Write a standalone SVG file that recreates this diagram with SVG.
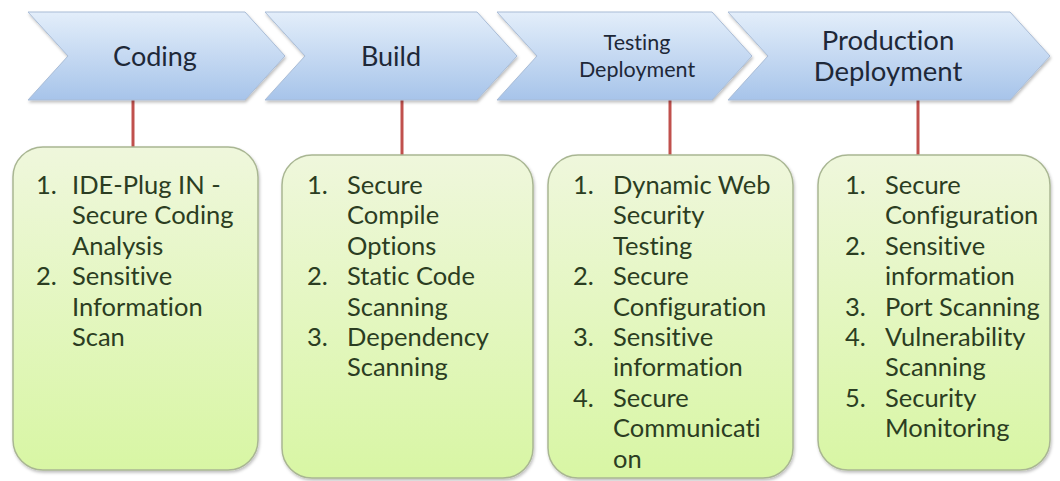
<svg xmlns="http://www.w3.org/2000/svg" width="1060" height="481" viewBox="0 0 1060 481">
<defs>
<linearGradient id="gBlue" x1="0" y1="0" x2="0" y2="1">
<stop offset="0" stop-color="#e3eefa"/>
<stop offset="1" stop-color="#a7c4ea"/>
</linearGradient>
<linearGradient id="gGreen" x1="0" y1="0" x2="0" y2="1">
<stop offset="0" stop-color="#eff7dc"/>
<stop offset="1" stop-color="#d8f6a4"/>
</linearGradient>
<filter id="sh" x="-5%" y="-5%" width="110%" height="115%">
<feDropShadow dx="1" dy="2" stdDeviation="1.5" flood-color="#000" flood-opacity="0.25"/>
</filter>
</defs>
<style>
.chev{fill:url(#gBlue);stroke:#a9bcd6;stroke-width:1;filter:url(#sh)}
.box{fill:url(#gGreen);stroke:#a9b693;stroke-width:1.5;filter:url(#sh)}
.ht{font-family:Lato,"Open Sans",sans-serif;fill:#1e2838;text-anchor:middle;font-variant-ligatures:none}
.bt{font-family:Lato,"Open Sans",sans-serif;font-size:25.5px;fill:#2b3d22;font-variant-ligatures:none}
.conn{stroke:#c0504d;stroke-width:3;fill:none}
</style>
<rect width="1060" height="481" fill="#ffffff"/>
<g id="connectors">
<line class="conn" x1="133" y1="100" x2="133" y2="148"/>
<line class="conn" x1="402" y1="100" x2="402" y2="156"/>
<line class="conn" x1="670" y1="100" x2="670" y2="156"/>
<line class="conn" x1="918" y1="100" x2="918" y2="156"/>
</g>
<g id="coding">
<path class="chev" d="M28,12 L245,12 L285,56 L245,100 L28,100 L68,56 Z"/>
<text class="ht" x="155" y="66" font-size="27">Coding</text>
</g>
<g id="build">
<path class="chev" d="M265,12 L477,12 L517,56 L477,100 L265,100 L305,56 Z"/>
<text class="ht" x="391" y="66" font-size="27">Build</text>
</g>
<g id="testing">
<path class="chev" d="M497,12 L712,12 L752,56 L712,100 L497,100 L537,56 Z"/>
<text class="ht" x="637" y="50" font-size="21.5">Testing</text>
<text class="ht" x="637" y="77" font-size="21.5">Deployment</text>
</g>
<g id="production">
<path class="chev" d="M728,12 L1010,12 L1050,56 L1010,100 L728,100 L768,56 Z"/>
<text class="ht" x="888" y="50" font-size="27.5">Production</text>
<text class="ht" x="888" y="81" font-size="27.5">Deployment</text>
</g>
<g id="box-coding">
<rect class="box" x="13" y="147" width="245" height="323" rx="30"/>
<text class="bt"><tspan x="36" y="194">1.</tspan><tspan x="72" y="194">IDE-Plug IN -</tspan><tspan x="72" y="224.4">Secure Coding</tspan><tspan x="72" y="254.8">Analysis</tspan><tspan x="36" y="285.2">2.</tspan><tspan x="72" y="285.2">Sensitive</tspan><tspan x="72" y="315.6">Information</tspan><tspan x="72" y="346">Scan</tspan></text>
</g>
<g id="box-build">
<rect class="box" x="282" y="155" width="251" height="323" rx="30"/>
<text class="bt"><tspan x="307" y="194">1.</tspan><tspan x="347" y="194">Secure</tspan><tspan x="347" y="224.4">Compile</tspan><tspan x="347" y="254.8">Options</tspan><tspan x="307" y="285.2">2.</tspan><tspan x="347" y="285.2">Static Code</tspan><tspan x="347" y="315.6">Scanning</tspan><tspan x="307" y="346">3.</tspan><tspan x="347" y="346">Dependency</tspan><tspan x="347" y="376.4">Scanning</tspan></text>
</g>
<g id="box-testing">
<rect class="box" x="548" y="155" width="245" height="323" rx="30"/>
<text class="bt"><tspan x="573" y="194">1.</tspan><tspan x="613" y="194">Dynamic Web</tspan><tspan x="613" y="224.4">Security</tspan><tspan x="613" y="254.8">Testing</tspan><tspan x="573" y="285.2">2.</tspan><tspan x="613" y="285.2">Secure</tspan><tspan x="613" y="315.6">Configuration</tspan><tspan x="573" y="346">3.</tspan><tspan x="613" y="346">Sensitive</tspan><tspan x="613" y="376.4">information</tspan><tspan x="573" y="406.8">4.</tspan><tspan x="613" y="406.8">Secure</tspan><tspan x="613" y="437.2">Communicati</tspan><tspan x="613" y="467.6">on</tspan></text>
</g>
<g id="box-production">
<rect class="box" x="818" y="155" width="232" height="315" rx="30"/>
<text class="bt"><tspan x="845" y="194">1.</tspan><tspan x="885" y="194">Secure</tspan><tspan x="885" y="224.4">Configuration</tspan><tspan x="845" y="254.8">2.</tspan><tspan x="885" y="254.8">Sensitive</tspan><tspan x="885" y="285.2">information</tspan><tspan x="845" y="315.6">3.</tspan><tspan x="885" y="315.6">Port Scanning</tspan><tspan x="845" y="346">4.</tspan><tspan x="885" y="346">Vulnerability</tspan><tspan x="885" y="376.4">Scanning</tspan><tspan x="845" y="406.8">5.</tspan><tspan x="885" y="406.8">Security</tspan><tspan x="885" y="437.2">Monitoring</tspan></text>
</g>
</svg>
